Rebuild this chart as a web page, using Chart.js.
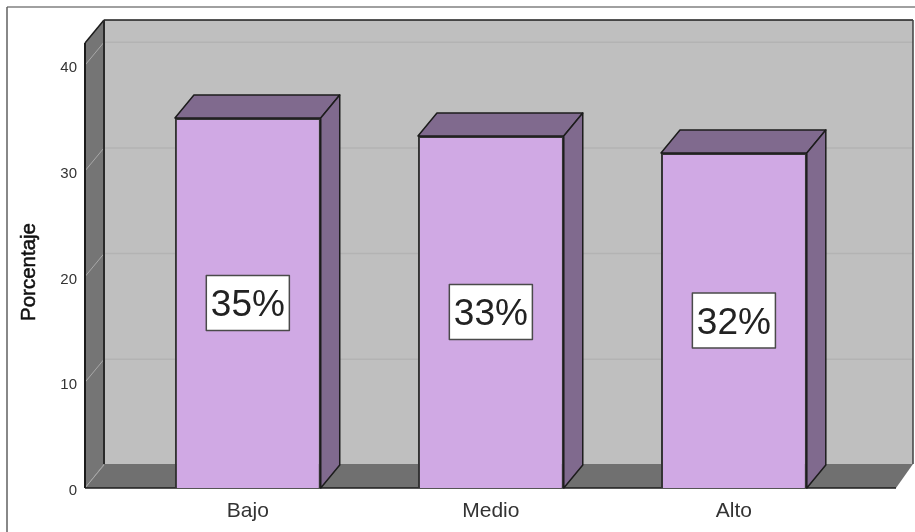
<!DOCTYPE html>
<html>
<head>
<meta charset="utf-8">
<title>Porcentaje</title>
<script src="https://cdn.jsdelivr.net/npm/chart.js@4/dist/chart.umd.min.js"></script>
<style>
    html, body { margin: 0; padding: 0; background: #fff; overflow: hidden; }
    #wrap { width: 915px; height: 532px; position: relative; }
</style>
</head>
<body>
<div id="wrap"><canvas id="barChart" width="915" height="532"></canvas></div>
<script>
const categories = ['Bajo', 'Medio', 'Alto'];
const percentages = [35, 33.3, 31.7];
const valueLabels = ['35%', '33%', '32%'];
const yTicks = [0, 10, 20, 30, 40];
const yTitle = 'Porcentaje';

const INK = '#1c1c1c';
const WALL_DX = 19, WALL_DY = 23;   // depth of the box
const BAR_DX = 19, BAR_DY = 23;     // depth of the bars

function poly(ctx, pts, fill, stroke, lw) {
    ctx.beginPath();
    pts.forEach((p, i) => i ? ctx.lineTo(p[0], p[1]) : ctx.moveTo(p[0], p[1]));
    ctx.closePath();
    if (fill) { ctx.fillStyle = fill; ctx.fill(); }
    if (stroke) { ctx.strokeStyle = stroke; ctx.lineWidth = lw || 1.5; ctx.lineJoin = 'round'; ctx.stroke(); }
}

function line(ctx, x1, y1, x2, y2, color, lw) {
    ctx.beginPath();
    ctx.moveTo(x1, y1);
    ctx.lineTo(x2, y2);
    ctx.strokeStyle = color;
    ctx.lineWidth = lw;
    ctx.stroke();
}

// Frame, back wall, side wall and floor of the 3D box
const boxPlugin = {
    id: 'box',
    beforeDatasetsDraw(chart) {
        const { ctx, chartArea: a, scales: { y } } = chart;
        const dx = WALL_DX, dy = WALL_DY;
        const backRight = a.right + dx - 2;
        const backBottom = a.bottom - dy - 1;
        ctx.save();
        // outer frame
        line(ctx, 7, 7, 915, 7, '#808080', 1.5);
        line(ctx, 7, 7, 7, 532, '#606060', 1.5);
        // back wall
        poly(ctx, [[a.left + dx, a.top - dy], [backRight, a.top - dy], [backRight, backBottom], [a.left + dx, backBottom]], '#bfbfbf');
        // side wall and floor
        poly(ctx, [[a.left, a.top], [a.left + dx, a.top - dy], [a.left + dx, backBottom], [a.left, a.bottom]], '#757575');
        poly(ctx, [[a.left, a.bottom], [a.left + dx, backBottom], [backRight, backBottom], [a.right, a.bottom]], '#707070');
        // grid lines
        yTicks.forEach(t => {
            const py = y.getPixelForValue(t);
            if (t > 0) line(ctx, a.left + dx, py - dy, backRight, py - dy, '#b3b3b3', 1.5);
            line(ctx, a.left, py, a.left + dx, py - dy, '#a8a8a8', 1);
        });
        // edges
        line(ctx, a.left, a.top, a.left, a.bottom, INK, 2);
        line(ctx, a.left, a.top, a.left + dx, a.top - dy, INK, 1.5);
        line(ctx, a.left + dx, a.top - dy, backRight, a.top - dy, INK, 1.5);
        line(ctx, a.left + dx, a.top - dy, a.left + dx, backBottom, '#2a2a2a', 2);
        line(ctx, backRight, a.top - dy, backRight, backBottom, '#404040', 1.5);
        line(ctx, a.left, a.bottom, a.right, a.bottom, INK, 1.5);
        // axis title
        ctx.translate(29, 272);
        ctx.rotate(-Math.PI / 2);
        ctx.font = '20.5px "Liberation Sans"';
        ctx.fillStyle = '#111';
        ctx.strokeStyle = '#111';
        ctx.lineWidth = 0.5;
        ctx.textAlign = 'center';
        ctx.textBaseline = 'middle';
        ctx.fillText(yTitle, 0, 0);
        ctx.strokeText(yTitle, 0, 0);
        ctx.restore();
    },
    afterDatasetsDraw(chart) {
        const { ctx } = chart;
        const meta = chart.getDatasetMeta(0);
        ctx.save();
        meta.data.forEach((bar, i) => {
            const half = bar.width / 2;
            const l = bar.x - half, r = bar.x + half, t = bar.y, b = bar.base;
            // top and right faces of the bar
            poly(ctx, [[l, t], [l + BAR_DX, t - BAR_DY], [r + BAR_DX, t - BAR_DY], [r, t]], '#806a8e', INK, 1.5);
            poly(ctx, [[r, t], [r + BAR_DX, t - BAR_DY], [r + BAR_DX, b - BAR_DY], [r, b]], '#806a8e', INK, 1.5);
            // value box
            ctx.font = '37px "Liberation Sans"';
            const w = ctx.measureText(valueLabels[i]).width + 9;
            const h = 55;
            const mid = (t + b) / 2;
            ctx.fillStyle = '#fff';
            ctx.fillRect(bar.x - w / 2, mid - h / 2, w, h);
            ctx.strokeStyle = '#4a4a4a';
            ctx.lineWidth = 1.5;
            ctx.strokeRect(bar.x - w / 2, mid - h / 2, w, h);
            ctx.fillStyle = '#222';
            ctx.textAlign = 'center';
            ctx.textBaseline = 'middle';
            ctx.fillText(valueLabels[i], bar.x, mid + 3);
        });
        ctx.restore();
    }
};

new Chart(document.getElementById('barChart'), {
    type: 'bar',
    data: {
        datasets: [{
            data: categories.map((c, i) => ({ x: i, y: percentages[i] })),
            backgroundColor: '#d0a9e4',
            borderColor: '#333',
            borderWidth: 2,
            categoryPercentage: 0.6,
            barPercentage: 1
        }]
    },
    options: {
        responsive: false,
        animation: false,
        layout: { padding: { top: 43, right: 19, left: 0, bottom: 0 } },
        plugins: { legend: { display: false }, tooltip: { enabled: false } },
        scales: {
            x: {
                type: 'linear',
                offset: false,
                min: -0.67,
                max: 2.667,
                grid: { display: false, offset: false },
                border: { display: false },
                afterBuildTicks: scale => { scale.ticks = categories.map((c, i) => ({ value: i })); },
                afterFit: scale => { scale.height = 44; },
                ticks: {
                    autoSkip: false,
                    maxRotation: 0,
                    padding: 3,
                    color: '#333',
                    font: { family: '"Liberation Sans"', size: 21 },
                    callback: value => categories[value]
                }
            },
            y: {
                min: 0,
                max: 42.1,
                grid: { display: false },
                border: { display: false },
                afterBuildTicks: scale => { scale.ticks = yTicks.map(v => ({ value: v })); },
                afterFit: scale => { scale.width = 85; },
                ticks: {
                    padding: 0,
                    labelOffset: 3,
                    color: '#333',
                    font: { family: '"Liberation Sans"', size: 15 }
                }
            }
        }
    },
    plugins: [boxPlugin]
});
</script>
</body>
</html>
